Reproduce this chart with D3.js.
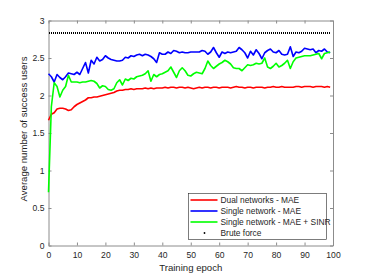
<!DOCTYPE html>
<html>
<head>
    <style>
        body { margin: 0; background: #fff; }
        svg { font-family: "Liberation Sans", Arial, sans-serif; }
        .axis text { font-size: 8.6px; fill: #262626; }
        .axis path, .axis line { stroke: #8c8c8c; }
        .label { font-size: 9.6px; fill: #262626; text-anchor: middle; }
        .legend text { font-size: 8.4px; fill: #262626; }
    </style>
    <script src="https://d3js.org/d3.v7.min.js"></script>
</head>
<body>
    <script>

        var epochs = d3.range(0, 100);

        var dualMAE = [1.67, 1.75, 1.77, 1.82, 1.83, 1.83, 1.82, 1.80, 1.81, 1.85,
                       1.88, 1.90, 1.92, 1.94, 1.97, 1.97, 1.98, 1.98, 1.99, 2.00,
                       2.01, 2.02, 2.03, 2.04, 2.06, 2.07, 2.07, 2.08, 2.08, 2.09,
                       2.08, 2.09, 2.09, 2.09, 2.10, 2.09, 2.10, 2.09, 2.10, 2.10,
                       2.10, 2.11, 2.10, 2.11, 2.11, 2.10, 2.11, 2.11, 2.10, 2.11,
                       2.10, 2.09, 2.10, 2.11, 2.10, 2.11, 2.11, 2.10, 2.11, 2.11,
                       2.10, 2.11, 2.11, 2.11, 2.10, 2.11, 2.12, 2.11, 2.11, 2.10,
                       2.11, 2.11, 2.10, 2.11, 2.11, 2.11, 2.10, 2.11, 2.11, 2.12,
                       2.11, 2.11, 2.12, 2.11, 2.11, 2.11, 2.11, 2.12, 2.12, 2.11,
                       2.12, 2.12, 2.12, 2.11, 2.12, 2.12, 2.12, 2.11, 2.12, 2.11];

        var singleMAE = [2.29, 2.25, 2.18, 2.28, 2.24, 2.21, 2.25, 2.30, 2.29, 2.28,
                         2.31, 2.28, 2.36, 2.44, 2.30, 2.47, 2.42, 2.51, 2.46, 2.48,
                         2.53, 2.50, 2.48, 2.47, 2.46, 2.46, 2.47, 2.51, 2.50, 2.53,
                         2.52, 2.54, 2.55, 2.53, 2.55, 2.54, 2.52, 2.49, 2.44, 2.57,
                         2.55, 2.55, 2.58, 2.56, 2.60, 2.59, 2.57, 2.58, 2.57, 2.57,
                         2.58, 2.58, 2.58, 2.58, 2.60, 2.59, 2.55, 2.58, 2.64, 2.57,
                         2.51, 2.58, 2.56, 2.58, 2.57, 2.58, 2.59, 2.64, 2.61, 2.57,
                         2.50, 2.59, 2.54, 2.61, 2.56, 2.49, 2.57, 2.60, 2.62, 2.58,
                         2.57, 2.60, 2.55, 2.54, 2.55, 2.65, 2.52, 2.58, 2.57, 2.59,
                         2.63, 2.62, 2.61, 2.62, 2.57, 2.60, 2.59, 2.62, 2.58, 2.57];

        var singleSINR = [0.71, 1.85, 2.17, 2.12, 1.98, 2.07, 2.12, 2.27, 2.18, 2.18,
                          2.18, 2.17, 2.18, 2.18, 2.19, 2.20, 2.19, 2.16, 2.10, 2.13,
                          2.12, 2.08, 2.07, 2.09, 2.17, 2.21, 2.14, 2.22, 2.20, 2.23,
                          2.22, 2.25, 2.26, 2.27, 2.29, 2.33, 2.19, 2.28, 2.25, 2.28,
                          2.29, 2.31, 2.33, 2.38, 2.31, 2.24, 2.33, 2.37, 2.33, 2.27,
                          2.26, 2.29, 2.31, 2.30, 2.29, 2.36, 2.46, 2.40, 2.36, 2.39,
                          2.42, 2.44, 2.47, 2.45, 2.42, 2.37, 2.36, 2.36, 2.33, 2.37,
                          2.41, 2.40, 2.41, 2.43, 2.42, 2.43, 2.50, 2.38, 2.36, 2.39,
                          2.43, 2.38, 2.40, 2.43, 2.47, 2.36, 2.45, 2.50, 2.51, 2.52,
                          2.53, 2.53, 2.53, 2.54, 2.55, 2.56, 2.49, 2.56, 2.57, 2.58];

        var bruteForce = 2.83;

        var seriesNames = ["Dual networks - MAE", "Single network - MAE", "Single network - MAE + SINR", "Brute force"];
        var seriesColors = ["#ff0000", "#0000ff", "#00ff00", "#000000"];
        var xTicks = d3.range(0, 101, 10);
        var yTicks = [0, 0.5, 1, 1.5, 2, 2.5, 3];

        var width = 368,
            height = 276,
            margin = { top: 20.5, right: 35, bottom: 30.5, left: 48.5 },
            w = width - margin.left - margin.right,
            h = height - margin.top - margin.bottom;

        var svg = d3.select("body").append("svg")
                    .attr("width", width)
                    .attr("height", height);

        var g = svg.append("g")
                   .attr("transform", `translate(${margin.left}, ${margin.top})`);

        var x = d3.scaleLinear().domain([0, 100]).range([0, w]);
        var y = d3.scaleLinear().domain([0, 3]).range([h, 0]);

        // box axes, ticks pointing inward like matlab
        g.append("g").attr("class", "axis")
         .attr("transform", `translate(0, ${h})`)
         .call(d3.axisBottom(x).tickValues(xTicks).tickSize(-3).tickSizeOuter(0).tickPadding(6.5));

        g.append("g").attr("class", "axis")
         .call(d3.axisTop(x).tickValues(xTicks).tickSize(-3).tickSizeOuter(0).tickFormat(""));

        g.append("g").attr("class", "axis")
         .call(d3.axisLeft(y).tickValues(yTicks).tickSize(-3).tickSizeOuter(0).tickPadding(4)
                 .tickFormat(d3.format("")));

        g.append("g").attr("class", "axis")
         .attr("transform", `translate(${w}, 0)`)
         .call(d3.axisRight(y).tickValues(yTicks).tickSize(-3).tickSizeOuter(0).tickFormat(""));

        g.selectAll(".axis .domain").attr("stroke-width", 1);

        var line = d3.line()
                     .x(function(d, i) { return x(epochs[i]); })
                     .y(function(d) { return y(d); });

        [dualMAE, singleMAE, singleSINR].forEach(function(s, i) {
            g.append("path")
             .datum(s)
             .attr("fill", "none")
             .attr("stroke", seriesColors[i])
             .attr("stroke-width", 1.6)
             .attr("stroke-linejoin", "round")
             .attr("d", line);
        });

        // brute force drawn as dense dots
        g.append("path")
         .datum(epochs.map(function() { return bruteForce; }))
         .attr("fill", "none")
         .attr("stroke", "#000")
         .attr("stroke-width", 2)
         .attr("stroke-dasharray", "1,1")
         .attr("shape-rendering", "crispEdges")
         .attr("d", line);

        // axis labels
        svg.append("text").attr("class", "label")
           .attr("x", margin.left + w / 2)
           .attr("y", 271)
           .text("Training epoch");

        svg.append("text").attr("class", "label")
           .attr("transform", `translate(26.5, ${margin.top + h / 2 - 4}) rotate(-90)`)
           .text("Average number of success users");

        // legend
        var lg = svg.append("g").attr("class", "legend")
                    .attr("transform", "translate(188.5, 193.5)");

        lg.append("rect")
          .attr("width", 138)
          .attr("height", 46)
          .attr("fill", "#fff")
          .attr("stroke", "#262626")
          .attr("stroke-width", 0.6);

        var item = lg.selectAll(".item")
                     .data(seriesNames)
                     .enter().append("g")
                     .attr("class", "item")
                     .attr("transform", function(d, i) { return `translate(0, ${6.5 + i * 11})`; });

        item.filter(function(d, i) { return i < 3; })
            .append("line")
            .attr("x1", 2).attr("x2", 29)
            .attr("stroke", function(d, i) { return seriesColors[i]; })
            .attr("stroke-width", 1.6);

        item.filter(function(d, i) { return i == 3; })
            .append("circle")
            .attr("cx", 16).attr("r", 0.9)
            .attr("fill", "#000");

        item.append("text")
            .attr("x", 32)
            .attr("dy", "0.35em")
            .text(function(d) { return d; });
    </script>
</body>
</html>
